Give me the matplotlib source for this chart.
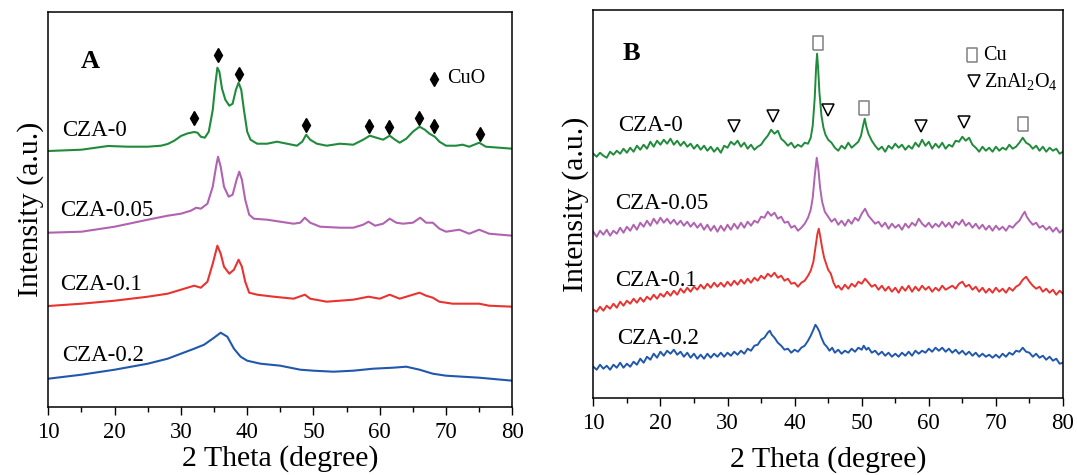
import matplotlib
matplotlib.use('Agg')
import matplotlib.pyplot as plt
import numpy as np

plt.rcParams['font.family'] = ['Liberation Serif', 'DejaVu Serif']
plt.rcParams['mathtext.fontset'] = 'custom'
plt.rcParams['mathtext.rm'] = 'Liberation Serif'
plt.rcParams['mathtext.it'] = 'Liberation Serif:italic'

# ---- data (2 theta in degree, intensity in a.u.) ----
labels = ['CZA-0', 'CZA-0.05', 'CZA-0.1', 'CZA-0.2']
colors = ['#1f8b3b', '#b063b0', '#e83331', '#2158ab']

# panel A: calcined samples
A_cza0 = [(10, 255.7), (15, 257), (19, 260.7), (22, 260), (25, 260), (27, 261), (28, 262.7),
          (29, 266), (30, 270.7), (31, 273.3), (32, 274.7), (32.5, 274), (33, 270), (33.6, 269),
          (34.2, 275), (34.8, 296.7), (35.2, 323), (35.5, 339), (35.8, 335), (36.2, 318),
          (36.7, 307), (37.3, 301), (37.8, 303), (38.3, 317), (38.7, 324), (39.1, 317),
          (39.5, 297), (40, 275), (40.5, 267), (41.5, 263), (43, 263), (44.5, 265), (46, 263),
          (47.5, 261), (48.3, 265), (48.9, 272), (49.5, 267), (50.5, 263), (52, 261), (54, 263),
          (56, 262), (57.5, 267), (58.5, 271), (59.5, 269), (60.5, 267), (61.5, 271), (62.3, 267),
          (63, 264), (64, 268), (65, 275), (66, 280), (66.8, 277), (67.5, 273), (68.3, 270),
          (69, 265), (70, 261), (71.5, 261), (72.5, 262), (73.5, 260), (75, 264), (76, 260),
          (78, 259), (80, 258)]
A_cza005 = [(10, 174), (15, 175), (20, 180), (25, 187), (28, 191), (30, 193), (31.5, 196),
            (32.3, 199), (33, 198), (34, 203), (34.8, 220), (35.3, 240), (35.6, 250), (36, 240),
            (36.5, 220), (37.2, 210), (37.8, 212), (38.4, 227), (38.8, 235), (39.2, 227),
            (39.7, 207), (40.3, 192), (41, 188), (43, 187), (45, 185), (47, 183), (48, 184),
            (48.7, 189), (49.5, 184), (51, 180), (54, 179), (56, 179), (57.5, 182), (58.3, 185),
            (59.3, 181), (60.5, 183), (61.5, 188), (62.5, 184), (63.5, 183), (65, 184),
            (66.1, 189), (67, 184), (68, 184), (69, 178), (70, 175), (72, 177), (73.5, 173),
            (75, 177), (76.5, 173), (80, 171)]
A_cza01 = [(10, 100.7), (15, 103), (20, 106), (25, 110), (28, 113), (30, 117), (32, 121),
           (33, 119), (34, 125), (34.8, 143), (35.5, 161), (36, 153), (36.5, 140), (37.3, 133),
           (38, 137), (38.7, 147), (39.2, 140), (39.7, 125), (40.3, 114), (41.5, 112), (44, 110),
           (47, 108), (48.7, 112), (49.5, 108), (52, 105), (56, 107), (58.3, 110), (60, 108),
           (61.5, 112), (63, 108), (65, 112), (66, 114), (67, 111), (68, 109), (69, 105),
           (71, 103), (73, 103), (75, 103), (76.5, 101), (80, 100)]
A_cza02 = [(10, 28), (15, 32), (20, 37), (25, 43), (28, 48), (30, 53), (32, 58), (33.5, 62),
           (35, 69), (36, 74), (37, 70), (38, 58), (39, 50), (40, 46), (42, 43), (45, 41),
           (48, 37), (50, 36), (53, 35), (56, 36), (59, 38), (62, 39), (64, 40), (66, 37),
           (68, 33), (70, 31), (75, 29), (80, 26)]

# CuO reflections marked on CZA-0
cuo_x = [31.96, 35.55, 38.7, 48.9, 58.4, 61.4, 65.9, 68.2, 75.06]
cuo_y = [289, 351.7, 333, 282, 280.7, 279.3, 288.7, 280.7, 272.7]

# panel B: reduced samples
B_cza0 = [(10, 244), (10.5, 241), (11, 245), (11.5, 242), (12, 240), (12.5, 246), (13, 243),
          (13.5, 247), (14, 244), (14.5, 249), (15, 245), (15.5, 250), (16, 246), (16.5, 252),
          (17, 248), (17.5, 253), (18, 249), (18.5, 256), (19, 251), (19.5, 257), (20, 253),
          (20.5, 258), (21, 254), (21.5, 259), (22, 253), (22.5, 257), (23, 252), (23.5, 256),
          (24, 251), (24.5, 254), (25, 249), (25.5, 253), (26, 248), (26.5, 252), (27, 247),
          (27.5, 251), (28, 246), (28.5, 250), (29, 245), (29.5, 252), (30, 250), (30.5, 256),
          (31, 253), (31.5, 257), (32, 251), (32.5, 255), (33, 249), (33.5, 253), (34, 248),
          (34.5, 251), (35, 253), (35.5, 258), (36, 262), (36.5, 268), (37, 264), (37.5, 267),
          (38, 259), (38.5, 256), (39, 252), (39.5, 255), (40, 250), (40.5, 253), (41, 251),
          (41.5, 255), (42, 254), (42.4, 260), (42.7, 272), (43, 300), (43.2, 330), (43.35, 344),
          (43.5, 330), (43.7, 305), (44, 282), (44.3, 270), (44.6, 263), (45, 258), (45.5, 255),
          (46, 250), (46.5, 247), (47, 252), (47.5, 249), (48, 255), (48.5, 250), (49, 253),
          (49.5, 256), (49.9, 262), (50.2, 272), (50.45, 279), (50.7, 271), (51, 264),
          (51.5, 257), (52, 252), (52.5, 248), (53, 251), (53.5, 246), (54, 252), (54.5, 249),
          (55, 254), (55.5, 250), (56, 253), (56.5, 248), (57, 252), (57.5, 249), (58, 255),
          (58.5, 251), (59, 258), (59.5, 252), (60, 256), (60.5, 249), (61, 254), (61.5, 250),
          (62, 255), (62.5, 249), (63, 253), (63.5, 251), (64, 257), (64.5, 256), (65, 261),
          (65.5, 257), (66, 260), (66.5, 253), (67, 250), (67.5, 246), (68, 251), (68.5, 247),
          (69, 250), (69.5, 246), (70, 251), (70.5, 247), (71, 250), (71.5, 248), (72, 253),
          (72.5, 249), (73, 251), (73.5, 255), (74, 260), (74.5, 255), (75, 253), (75.5, 249),
          (76, 252), (76.5, 247), (77, 251), (77.5, 246), (78, 250), (78.5, 247), (79, 249),
          (79.5, 244), (80, 246)]
B_cza005 = [(10, 166), (10.5, 161), (11, 167), (11.5, 163), (12, 168), (12.5, 162), (13, 167),
            (13.5, 164), (14, 170), (14.5, 165), (15, 171), (15.5, 167), (16, 173), (16.5, 168),
            (17, 175), (17.5, 171), (18, 177), (18.5, 172), (19, 179), (19.5, 174), (20, 180),
            (20.5, 175), (21, 179), (21.5, 174), (22, 178), (22.5, 173), (23, 177), (23.5, 172),
            (24, 176), (24.5, 171), (25, 175), (25.5, 170), (26, 174), (26.5, 168), (27, 173),
            (27.5, 167), (28, 172), (28.5, 166), (29, 172), (29.5, 167), (30, 173), (30.5, 168),
            (31, 174), (31.5, 169), (32, 175), (32.5, 170), (33, 176), (33.5, 172), (34, 177),
            (34.5, 175), (35, 181), (35.5, 180), (36, 186), (36.5, 182), (37, 185), (37.5, 179),
            (38, 181), (38.5, 175), (39, 176), (39.5, 170), (40, 172), (40.5, 167), (41, 170),
            (41.5, 174), (42, 180), (42.4, 188), (42.7, 200), (43, 222), (43.3, 240),
            (43.55, 228), (43.8, 210), (44.1, 196), (44.5, 186), (45, 181), (45.5, 176),
            (46, 179), (46.5, 173), (47, 177), (47.5, 172), (48, 178), (48.5, 174), (49, 180),
            (49.5, 177), (50, 184), (50.5, 189), (51, 182), (51.5, 178), (52, 174), (52.5, 176),
            (53, 171), (53.5, 175), (54, 169), (54.5, 174), (55, 170), (55.5, 173), (56, 168),
            (56.5, 174), (57, 170), (57.5, 175), (58, 172), (58.5, 179), (59, 174), (59.5, 171),
            (60, 175), (60.5, 170), (61, 174), (61.5, 171), (62, 176), (62.5, 171), (63, 175),
            (63.5, 170), (64, 176), (64.5, 173), (65, 178), (65.5, 172), (66, 175), (66.5, 170),
            (67, 174), (67.5, 169), (68, 173), (68.5, 168), (69, 172), (69.5, 167), (70, 172),
            (70.5, 168), (71, 171), (71.5, 167), (72, 172), (72.5, 170), (73, 174), (73.5, 177),
            (74, 183), (74.3, 186), (74.6, 181), (75, 177), (75.5, 173), (76, 175), (76.5, 170),
            (77, 172), (77.5, 168), (78, 171), (78.5, 166), (79, 170), (79.5, 165), (80, 168)]
B_cza01 = [(10, 88), (10.5, 86), (11, 91), (11.5, 87), (12, 92), (12.5, 89), (13, 94),
           (13.5, 90), (14, 96), (14.5, 92), (15, 97), (15.5, 94), (16, 99), (16.5, 95), (17, 100),
           (17.5, 96), (18, 101), (18.5, 98), (19, 103), (19.5, 99), (20, 104), (20.5, 101),
           (21, 106), (21.5, 102), (22, 107), (22.5, 103), (23, 109), (23.5, 105), (24, 110),
           (24.5, 106), (25, 111), (25.5, 108), (26, 113), (26.5, 109), (27, 114), (27.5, 110),
           (28, 115), (28.5, 111), (29, 115), (29.5, 111), (30, 116), (30.5, 112), (31, 117),
           (31.5, 113), (32, 118), (32.5, 114), (33, 119), (33.5, 115), (34, 120), (34.5, 117),
           (35, 122), (35.5, 119), (36, 124), (36.5, 121), (37, 125), (37.5, 120), (38, 122),
           (38.5, 117), (39, 119), (39.5, 114), (40, 115), (40.5, 111), (41, 115), (41.5, 117),
           (42, 122), (42.4, 127), (42.8, 136), (43.1, 150), (43.4, 164), (43.6, 169),
           (43.8, 162), (44.1, 150), (44.4, 140), (44.7, 134), (45, 128), (45.4, 124),
           (45.8, 115), (46.2, 110), (46.5, 112), (47, 108), (47.5, 113), (48, 109), (48.5, 114),
           (49, 111), (49.5, 116), (50, 114), (50.5, 119), (51, 115), (51.5, 111), (52, 113),
           (52.5, 108), (53, 112), (53.5, 107), (54, 111), (54.5, 106), (55, 110), (55.5, 105),
           (56, 111), (56.5, 107), (57, 112), (57.5, 106), (58, 111), (58.5, 107), (59, 112),
           (59.5, 108), (60, 111), (60.5, 106), (61, 110), (61.5, 107), (62, 112), (62.5, 108),
           (63, 110), (63.5, 112), (64, 109), (64.5, 114), (65, 116), (65.5, 111), (66, 113),
           (66.5, 108), (67, 111), (67.5, 106), (68, 110), (68.5, 105), (69, 109), (69.5, 105),
           (70, 110), (70.5, 106), (71, 109), (71.5, 105), (72, 110), (72.5, 107), (73, 111),
           (73.5, 113), (74, 118), (74.5, 121), (75, 116), (75.5, 112), (76, 109), (76.5, 111),
           (77, 106), (77.5, 109), (78, 105), (78.5, 108), (79, 103), (79.5, 107), (80, 104)]
B_cza02 = [(10, 31), (10.5, 28), (11, 33), (11.5, 29), (12, 32), (12.5, 28), (13, 33),
           (13.5, 30), (14, 35), (14.5, 30), (15, 34), (15.5, 31), (16, 36), (16.5, 33), (17, 39),
           (17.5, 35), (18, 41), (18.5, 38), (19, 44), (19.5, 40), (20, 46), (20.5, 42), (21, 47),
           (21.5, 44), (22, 48), (22.5, 43), (23, 46), (23.5, 41), (24, 45), (24.5, 40), (25, 44),
           (25.5, 39), (26, 43), (26.5, 39), (27, 44), (27.5, 40), (28, 44), (28.5, 41), (29, 45),
           (29.5, 41), (30, 45), (30.5, 42), (31, 46), (31.5, 43), (32, 47), (32.5, 44), (33, 49),
           (33.5, 47), (34, 52), (34.5, 53), (35, 58), (35.5, 60), (36, 65), (36.3, 67),
           (36.6, 63), (37, 60), (37.5, 55), (38, 52), (38.5, 48), (39, 49), (39.5, 45), (40, 48),
           (40.5, 46), (41, 50), (41.5, 52), (42, 57), (42.4, 62), (42.8, 68), (43.1, 73),
           (43.4, 70), (43.7, 66), (44, 60), (44.4, 54), (44.8, 51), (45.2, 47), (45.6, 50),
           (46, 45), (46.5, 48), (47, 44), (47.5, 47), (48, 45), (48.5, 49), (49, 46), (49.5, 50),
           (50, 48), (50.3, 52), (50.7, 48), (51, 50), (51.5, 45), (52, 47), (52.5, 43), (53, 46),
           (53.5, 42), (54, 45), (54.5, 41), (55, 44), (55.5, 41), (56, 45), (56.5, 42), (57, 46),
           (57.5, 42), (58, 47), (58.5, 44), (59, 47), (59.5, 45), (60, 49), (60.5, 46), (61, 50),
           (61.5, 47), (62, 50), (62.5, 46), (63, 49), (63.5, 45), (64, 48), (64.5, 44), (65, 47),
           (65.5, 43), (66, 46), (66.5, 42), (67, 45), (67.5, 41), (68, 44), (68.5, 41), (69, 43),
           (69.5, 40), (70, 43), (70.5, 40), (71, 44), (71.5, 41), (72, 45), (72.5, 43), (73, 47),
           (73.5, 46), (74, 50), (74.5, 46), (75, 45), (75.5, 41), (76, 44), (76.5, 40), (77, 42),
           (77.5, 38), (78, 41), (78.5, 37), (79, 39), (79.5, 34), (80, 35)]

# Cu and ZnAl2O4 reflections marked on CZA-0
cu_x = [43.5, 50.35, 74.1]
cu_y = [355, 290, 273.3]
spinel_x = [31.0, 36.8, 45.0, 58.85, 65.2]
spinel_y = [272, 282, 287.7, 272, 276]

A_curves = [A_cza0, A_cza005, A_cza01, A_cza02]
B_curves = [B_cza0, B_cza005, B_cza01, B_cza02]
A_label_pos = [(12.08, 276), (11.8, 196), (11.8, 121.7), (12.1, 50.7)]
B_label_pos = [(13.7, 272.7), (13.3, 194.3), (13.2, 117.7), (13.5, 59.3)]

fig = plt.figure(figsize=(10.77, 4.75), dpi=100)
axA = fig.add_axes([0.0449, 0.1438, 0.4308, 0.8303])
axB = fig.add_axes([0.5509, 0.1627, 0.4361, 0.8162])

box = [(-0.65, -1), (0.65, -1), (0.65, 1), (-0.65, 1), (-0.65, -1)]


def style(ax, ytop, xpad):
    ax.set_xlim(10, 80)
    ax.set_ylim(0, ytop)
    ax.set_xticks(np.arange(10, 81, 10))
    ax.set_xticks(np.arange(15, 80, 10), minor=True)
    ax.set_yticks([])
    ax.tick_params(axis='x', which='major', direction='out', length=6, width=1,
                   labelsize=16.5, pad=5)
    ax.tick_params(axis='x', which='minor', direction='out', length=3.6, width=1)
    for s in ax.spines.values():
        s.set_linewidth(1.1)
    ax.set_xlabel('2 Theta (degree)', fontsize=21.5, labelpad=xpad)
    ax.set_ylabel('Intensity (a.u.)', fontsize=21.5, labelpad=3)


for ax, curves, pos, lw in [(axA, A_curves, A_label_pos, 1.5), (axB, B_curves, B_label_pos, 1.4)]:
    for pts, c, lab, (tx, ty) in zip(curves, colors, labels, pos):
        x, y = np.array(pts).T
        ax.plot(x, y, color=c, lw=lw)
        ax.text(tx, ty, lab, fontsize=16.5, ha='left', va='center')

style(axA, 394.4, 1.5)
style(axB, 387.7, 8.5)

# panel A annotations
axA.text(16.3, 345, 'A', fontsize=19, fontweight='bold', ha='center', va='center')
axA.plot(cuo_x, cuo_y, 'd', color='black', ms=7)
axA.plot([68.2], [327.7], 'd', color='black', ms=7)
axA.text(70.1, 328.3, 'CuO', fontsize=14.5, ha='left', va='center')

# panel B annotations
axB.text(15.75, 344.3, 'B', fontsize=19, fontweight='bold', ha='center', va='center')
axB.plot(cu_x, cu_y, marker=box, ls='none', ms=10, mfc='none', mec='#808080', mew=1.1)
axB.plot(spinel_x, spinel_y, 'v', ls='none', ms=8, mfc='none', mec='black', mew=1.1)
axB.plot([66.5], [342.7], marker=box, ls='none', ms=10, mfc='none', mec='#808080', mew=1.1)
axB.text(68.1, 342.7, 'Cu', fontsize=14.5, ha='left', va='center')
axB.plot([66.7], [316.7], 'v', ms=8, mfc='none', mec='black', mew=1.1)
axB.text(68.3, 316.7, r'ZnAl$_2$O$_4$', fontsize=14.5, ha='left', va='center')

fig.savefig('out.png', dpi=100)
